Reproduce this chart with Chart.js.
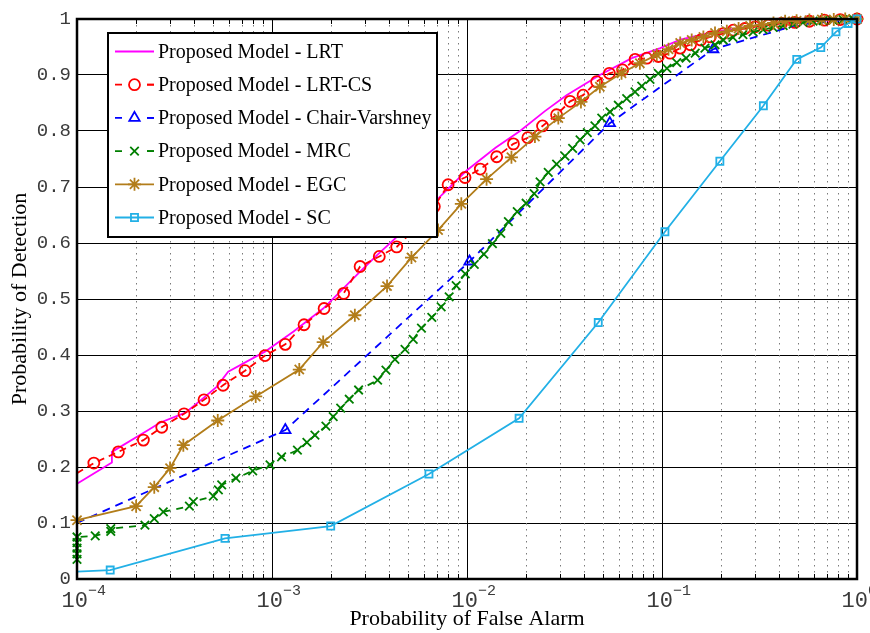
<!DOCTYPE html>
<html>
<head>
<meta charset="utf-8">
<script src="https://cdn.jsdelivr.net/npm/chart.js@4.4.1/dist/chart.umd.min.js"></script>
<style>
  html, body { margin: 0; padding: 0; background: #fff; }
  canvas { display: block; }
</style>
</head>
<body>
<canvas id="roc" width="870" height="633"></canvas>
<script>
/* ROC curves, Pd vs Pfa (log x). */

// axis ticks
const yTickValues = [0, 0.1, 0.2, 0.3, 0.4, 0.5, 0.6, 0.7, 0.8, 0.9, 1];
const xDecades    = [1e-4, 1e-3, 1e-2, 1e-1, 1];
const xDecadeExp  = ['\u22124', '\u22123', '\u22122', '\u22121', '0'];
const xMinorMult  = [2, 3, 4, 5, 6, 7, 8, 9];

// Proposed Model - LRT (no markers)
const lrtX = [1e-4, 1.51e-4, 1.51e-4, 2.32e-4, 2.66e-4, 3.6e-4, 4.44e-4, 5.2e-4, 5.96e-4, 9.2e-4,
  1.29e-3, 1.83e-3, 2.83e-3, 3.5e-3, 4.5e-3, 5.5e-3, 7.0e-3, 1.0e-2, 1.4e-2, 1.87e-2,
  2.5e-2, 3.24e-2, 4.8e-2, 7.0e-2, 9.8e-2, 0.124, 0.19, 0.3, 0.5, 1];
const lrtY = [0.170, 0.208, 0.227, 0.266, 0.279, 0.297, 0.323, 0.343, 0.370, 0.406,
  0.442, 0.483, 0.549, 0.58, 0.615, 0.645, 0.677, 0.73, 0.77, 0.80,
  0.835, 0.864, 0.90, 0.93, 0.948, 0.963, 0.978, 0.988, 0.995, 1];

// Proposed Model - LRT-CS
const lrtcsX = [1e-4, 1.22e-4, 1.63e-4, 2.19e-4, 2.72e-4, 3.54e-4, 4.48e-4, 5.61e-4, 7.27e-4, 9.21e-4,
  1.17e-3, 1.46e-3, 1.85e-3, 2.33e-3, 2.83e-3, 3.55e-3, 4.36e-3, 5.5e-3, 6.8e-3, 8.0e-3,
  9.77e-3, 1.17e-2, 1.42e-2, 1.73e-2, 2.05e-2, 2.44e-2, 2.88e-2, 3.38e-2, 3.94e-2, 4.62e-2,
  5.37e-2, 6.28e-2, 7.28e-2, 8.35e-2, 9.58e-2, 0.110, 0.124, 0.140, 0.158, 0.177,
  0.206, 0.232, 0.266, 0.30, 0.35, 0.41, 0.48, 0.57, 0.68, 0.82, 1];
const lrtcsY = [0.189, 0.207, 0.227, 0.248, 0.271, 0.295, 0.320, 0.346, 0.372, 0.399,
  0.419, 0.454, 0.483, 0.510, 0.558, 0.576, 0.593, 0.628, 0.665, 0.704,
  0.717, 0.732, 0.754, 0.777, 0.788, 0.809, 0.829, 0.853, 0.864, 0.888,
  0.903, 0.909, 0.928, 0.930, 0.933, 0.939, 0.948, 0.954, 0.9625, 0.968,
  0.974, 0.980, 0.983, 0.986, 0.989, 0.992, 0.994, 0.996, 0.998, 0.999, 1];

// Proposed Model - Chair-Varshney
const cvX = [1e-4, 1.17e-3, 1.03e-2, 5.4e-2, 0.183, 0.5, 1];
const cvY = [0.100, 0.266, 0.567, 0.814, 0.946, 0.990, 1];

// Proposed Model - MRC
const mrcX = [1e-4, 1e-4, 1e-4, 1e-4, 1e-4, 1.24e-4, 1.49e-4, 1.49e-4, 2.23e-4, 2.49e-4,
  2.77e-4, 3.77e-4, 3.95e-4, 5.0e-4, 5.31e-4, 5.52e-4, 6.53e-4, 7.96e-4, 9.77e-4, 1.12e-3,
  1.35e-3, 1.51e-3, 1.66e-3, 1.89e-3, 2.06e-3, 2.25e-3, 2.49e-3, 2.78e-3, 3.48e-3, 3.84e-3,
  4.27e-3, 4.81e-3, 5.3e-3, 5.84e-3, 6.6e-3, 7.37e-3, 8.1e-3, 8.8e-3, 9.8e-3, 1.09e-2,
  1.22e-2, 1.35e-2, 1.49e-2, 1.63e-2, 1.81e-2, 2.01e-2, 2.21e-2, 2.37e-2, 2.61e-2, 2.88e-2,
  3.18e-2, 3.48e-2, 3.80e-2, 4.14e-2, 4.53e-2, 4.91e-2, 5.41e-2, 5.97e-2, 6.59e-2, 7.27e-2,
  7.87e-2, 8.68e-2, 9.57e-2, 0.106, 0.119, 0.133, 0.148, 0.166, 0.187, 0.206,
  0.231, 0.260, 0.293, 0.330, 0.371, 0.418, 0.470, 0.529, 0.595, 0.670,
  0.753, 0.848, 0.953];
const mrcY = [0.035, 0.045, 0.055, 0.065, 0.075, 0.077, 0.085, 0.090, 0.096, 0.108,
  0.120, 0.130, 0.138, 0.148, 0.159, 0.168, 0.180, 0.193, 0.204, 0.218,
  0.230, 0.244, 0.257, 0.273, 0.290, 0.305, 0.321, 0.3375, 0.355, 0.373,
  0.392, 0.410, 0.428, 0.448, 0.467, 0.486, 0.504, 0.524, 0.545, 0.562,
  0.580, 0.599, 0.617, 0.638, 0.656, 0.671, 0.688, 0.709, 0.726, 0.741,
  0.755, 0.769, 0.784, 0.797, 0.809, 0.823, 0.834, 0.846, 0.858, 0.870,
  0.880, 0.892, 0.903, 0.912, 0.922, 0.930, 0.939, 0.948, 0.954, 0.9625,
  0.967, 0.972, 0.977, 0.981, 0.985, 0.988, 0.991, 0.994, 0.996, 0.997,
  0.998, 0.999, 1.0];

// Proposed Model - EGC
const egcX = [1e-4, 2.01e-4, 2.49e-4, 3.0e-4, 3.51e-4, 5.27e-4, 8.25e-4, 1.38e-3, 1.83e-3, 2.66e-3,
  3.89e-3, 5.19e-3, 7.11e-3, 9.35e-3, 1.26e-2, 1.69e-2, 2.23e-2, 2.94e-2, 3.84e-2, 4.8e-2,
  6.2e-2, 7.7e-2, 9.4e-2, 0.108, 0.124, 0.142, 0.163, 0.187, 0.215, 0.247,
  0.283, 0.325, 0.373, 0.428, 0.49, 0.57, 0.66, 0.76, 0.87, 1];
const egcY = [0.105, 0.130, 0.164, 0.198, 0.239, 0.283, 0.326, 0.374, 0.423, 0.471,
  0.523, 0.574, 0.623, 0.670, 0.714, 0.753, 0.790, 0.823, 0.852, 0.879,
  0.903, 0.921, 0.936, 0.946, 0.957, 0.9625, 0.968, 0.975, 0.978, 0.983,
  0.9875, 0.990, 0.993, 0.996, 0.997, 0.998, 0.999, 0.999, 1.0, 1];

// Proposed Model - SC
const scX = [1e-4, 1.48e-4, 5.74e-4, 2.0e-3, 6.38e-3, 1.85e-2, 4.71e-2, 0.1035, 0.198, 0.331,
  0.491, 0.652, 0.780, 0.90, 1];
const scY = [0.013, 0.016, 0.0726, 0.0946, 0.1875, 0.287, 0.458, 0.620, 0.746, 0.845,
  0.928, 0.949, 0.977, 0.992, 1.0];

const SERIES = [
  { label: 'Proposed Model - LRT',            xs: lrtX,   ys: lrtY,   color: '#ff00ff', dash: [],     style: 'line',     r: 0,   noMark: [] },
  { label: 'Proposed Model - LRT-CS',         xs: lrtcsX, ys: lrtcsY, color: '#ff0000', dash: [7, 5], style: 'circle',   r: 5.5, noMark: [0] },
  { label: 'Proposed Model - Chair-Varshney', xs: cvX,    ys: cvY,    color: '#0000ff', dash: [8, 6], style: 'triangle', r: 6,   noMark: [0, 5, 6] },
  { label: 'Proposed Model - MRC',            xs: mrcX,   ys: mrcY,   color: '#007f00', dash: [7, 6], style: 'crossRot', r: 6,   noMark: [] },
  { label: 'Proposed Model - EGC',            xs: egcX,   ys: egcY,   color: '#b27d1a', dash: [],     style: 'star',     r: 6.5, noMark: [] },
  { label: 'Proposed Model - SC',             xs: scX,    ys: scY,    color: '#22b0e6', dash: [],     style: 'rect',     r: 5,   noMark: [0] },
];

const xMinor = [];
xDecades.slice(0, -1).forEach(d => xMinorMult.forEach(m => xMinor.push(d * m)));

function toPoints(xs, ys){ return xs.map((x, i) => ({ x, y: ys[i] })); }

const TICK_FONT = '"Liberation Mono", "DejaVu Sans Mono", monospace';
const SERIF = '"Liberation Serif", "DejaVu Serif", serif';
const LINE_W = 1.8;

function strokeLine(ctx, x0, y0, x1, y1){
  ctx.beginPath(); ctx.moveTo(x0, y0); ctx.lineTo(x1, y1); ctx.stroke();
}

function marker(ctx, s, x, y){
  if(s.style === 'line') return;
  ctx.save();
  ctx.setLineDash([]);
  ctx.strokeStyle = s.color; ctx.fillStyle = 'rgba(0,0,0,0)'; ctx.lineWidth = LINE_W;
  Chart.helpers.drawPoint(ctx, { pointStyle: s.style, radius: s.r, rotation: 0, borderWidth: LINE_W }, x, y);
  ctx.restore();
}

// dotted minor grid + inward tick marks (MATLAB look)
const minorGrid = {
  id: 'minorGrid',
  beforeDatasetsDraw(chart){
    const { ctx, chartArea: a, scales: { x } } = chart;
    ctx.save();
    ctx.lineWidth = 1;
    ctx.strokeStyle = '#7a7a7a';
    ctx.setLineDash([1.5, 4.5]);
    xMinor.forEach(v => {
      const px = Math.round(x.getPixelForValue(v)) + 0.5;
      strokeLine(ctx, px, a.top, px, a.bottom);
    });
    ctx.setLineDash([]);
    ctx.strokeStyle = '#000';
    xMinor.forEach(v => {
      const px = Math.round(x.getPixelForValue(v)) + 0.5;
      strokeLine(ctx, px, a.bottom, px, a.bottom - 5);
      strokeLine(ctx, px, a.top, px, a.top + 5);
    });
    ctx.restore();
  }
};

// axes box, decade labels with superscripts, legend inside the plot
const frameAndLegend = {
  id: 'frameAndLegend',
  afterDatasetsDraw(chart){
    const { ctx, chartArea: a, scales: { x } } = chart;
    ctx.save();
    ctx.strokeStyle = '#000'; ctx.lineWidth = 2.5;
    ctx.strokeRect(a.left, a.top, a.right - a.left, a.bottom - a.top);

    // x decade labels
    ctx.fillStyle = '#3a3a3a';
    xDecades.forEach((v, i) => {
      const px = x.getPixelForValue(v);
      ctx.font = '22px ' + TICK_FONT;
      ctx.textAlign = 'right'; ctx.textBaseline = 'alphabetic';
      ctx.fillText('10', px + 11, a.bottom + 28);
      ctx.font = '15px ' + TICK_FONT;
      ctx.textAlign = 'left';
      ctx.fillText(xDecadeExp[i], px + 11, a.bottom + 16);
    });

    // legend
    const L = { left: 108, top: 33, width: 329, height: 204 };
    ctx.fillStyle = '#fff';
    ctx.fillRect(L.left, L.top, L.width, L.height);
    ctx.lineWidth = 2; ctx.strokeStyle = '#000';
    ctx.strokeRect(L.left, L.top, L.width, L.height);
    SERIES.forEach((s, i) => {
      const cy = L.top + 18.5 + i * 33.2;
      ctx.strokeStyle = s.color; ctx.lineWidth = LINE_W;
      ctx.setLineDash(s.dash.length ? [7, 25] : []);
      strokeLine(ctx, L.left + 7, cy, L.left + 46, cy);
      if(s.dash.length) strokeLine(ctx, L.left + 39, cy, L.left + 46, cy);
      ctx.setLineDash([]);
      marker(ctx, s, L.left + 26.5, cy);
      ctx.fillStyle = '#000';
      ctx.font = '20px ' + SERIF;
      ctx.textAlign = 'left'; ctx.textBaseline = 'middle';
      ctx.fillText(s.label, L.left + 50, cy + 1);
    });
    ctx.restore();
  }
};

const datasets = SERIES.map((s, i) => ({
  label: s.label,
  data: toPoints(s.xs, s.ys),
  borderColor: s.color,
  backgroundColor: 'rgba(0,0,0,0)',
  borderWidth: LINE_W,
  borderDash: s.dash,
  pointStyle: s.style === 'line' ? 'circle' : s.style,
  pointRadius: ctx => (s.style === 'line' || s.noMark.includes(ctx.dataIndex)) ? 0 : s.r,
  pointBorderColor: s.color,
  pointBackgroundColor: 'rgba(0,0,0,0)',
  pointBorderWidth: LINE_W,
  tension: 0,
  clip: false,
  order: SERIES.length - i,
}));

new Chart(document.getElementById('roc'), {
  type: 'line',
  data: { datasets },
  plugins: [minorGrid, frameAndLegend],
  options: {
    responsive: false,
    animation: false,
    devicePixelRatio: 1,
    layout: { padding: { top: 19, right: 13, left: 0, bottom: 0 } },
    plugins: { legend: { display: false }, tooltip: { enabled: false } },
    scales: {
      x: {
        type: 'logarithmic',
        min: 1e-4, max: 1,
        afterBuildTicks: sc => { sc.ticks = xDecades.map(v => ({ value: v })); },
        afterFit: sc => { sc.height = 54; },
        ticks: { display: false },
        grid: { color: '#000', lineWidth: 1, drawTicks: false },
        border: { display: false },
        title: {
          display: true, text: 'Probability of False Alarm', color: '#000',
          font: { family: SERIF, size: 22 }, padding: { top: 0, bottom: 1 },
        },
      },
      y: {
        type: 'linear',
        min: 0, max: 1,
        afterBuildTicks: sc => { sc.ticks = yTickValues.map(v => ({ value: v })); },
        afterFit: sc => { sc.width = 77; },
        ticks: {
          color: '#3a3a3a', padding: 6,
          font: { family: TICK_FONT, size: 19 },
          callback: v => String(v),
        },
        grid: { color: '#000', lineWidth: 1, drawTicks: false },
        border: { display: false },
        title: {
          display: true, text: 'Probability of Detection', color: '#000',
          font: { family: SERIF, size: 22 }, padding: { top: 7, bottom: 0 },
        },
      },
    },
  },
});
</script>
</body>
</html>
